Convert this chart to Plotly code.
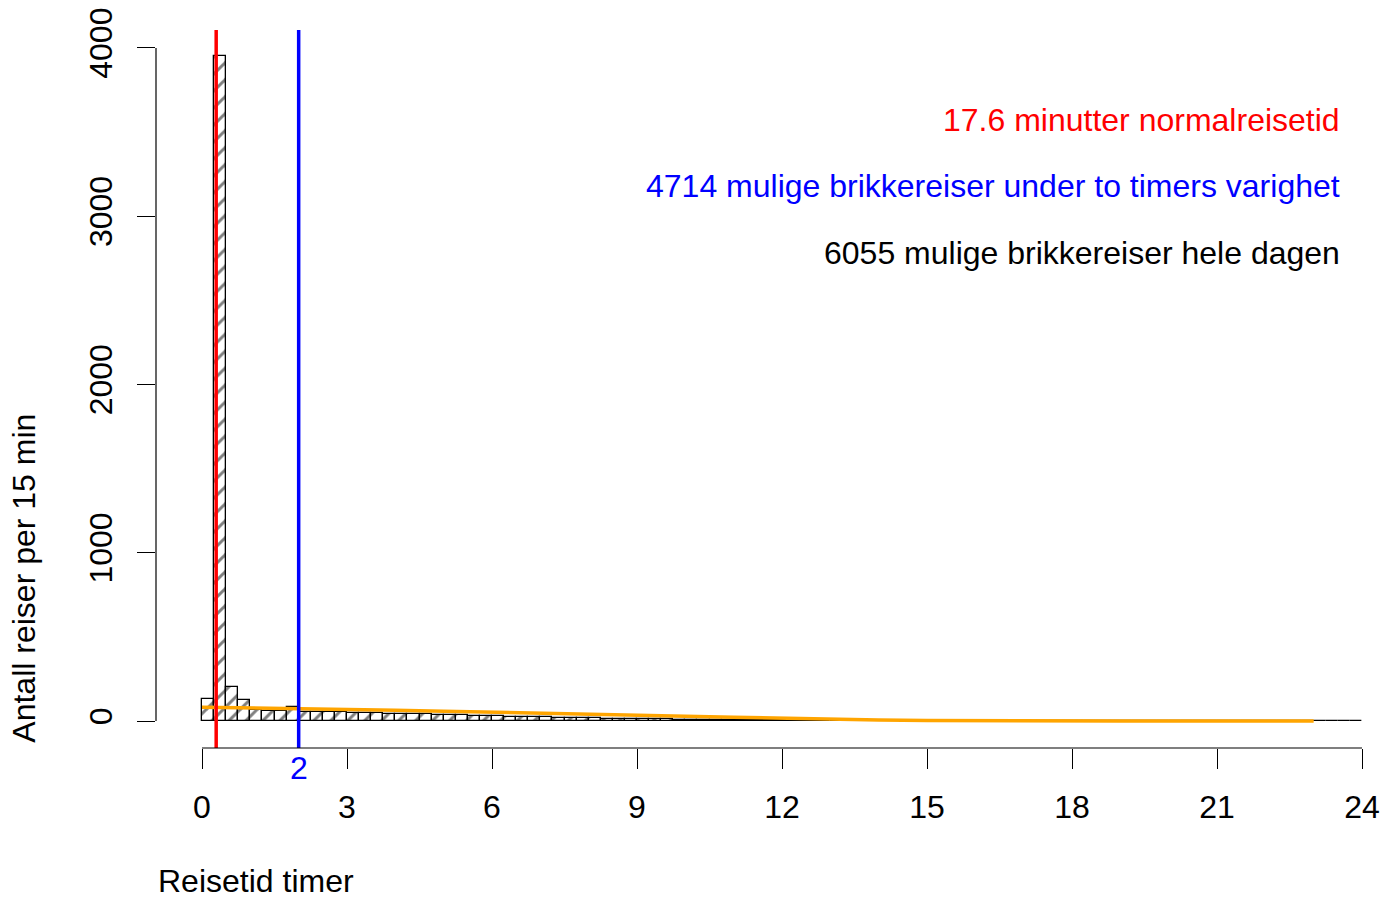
import plotly.graph_objects as go

# ---- data ----
bin_width_h = 0.25
counts = [134, 3950, 203, 124, 65, 63, 60, 82,
          56, 54, 52, 52, 50, 49, 47,
          45, 43, 41, 40, 38, 36, 35, 33,
          31, 29, 27, 26, 24, 22, 21, 19,
          18, 17, 15, 14, 13, 12, 11, 10,
          9, 9, 8, 7, 7, 6, 5, 5,
          5, 4, 4, 4, 3, 3, 3, 3, 2, 2, 2, 2, 2, 2,
          2, 2, 2, 1, 2, 1, 1, 2, 1, 1, 1, 1, 1, 1, 1, 1, 1, 1, 1, 1,
          0, 1, 1, 1, 0, 1, 1, 0, 1, 1, 1, 1, 1, 1, 1]
bin_centers = [bin_width_h * i + bin_width_h / 2 for i in range(len(counts))]

smooth_x = [0, 1, 2, 3, 4, 5, 6, 7, 8, 9, 10, 11, 12, 13, 14, 15, 16, 17, 18, 19, 20, 21, 22, 23]
smooth_y = [83, 77, 73, 69, 64, 59, 54, 47, 41, 35, 29, 23, 16, 11, 7, 4, 2, 1, 0, 0, 0, 0, 0, 0]

normal_time_h = 17.6 / 60
limit_h = 2
x_ticks = [0, 3, 6, 9, 12, 15, 18, 21, 24]
y_ticks = [0, 1000, 2000, 3000, 4000]

txt_red = "17.6 minutter normalreisetid"
txt_blue = "4714 mulige brikkereiser under to timers varighet"
txt_black = "6055 mulige brikkereiser hele dagen"

FONT = "Liberation Sans, Arial, sans-serif"
FS = 32

fig = go.Figure()
fig.add_trace(go.Bar(
    x=bin_centers, y=counts, width=bin_width_h,
    marker=dict(color="white",
                line=dict(color="black", width=1.3),
                pattern=dict(shape="/", fgcolor="black", bgcolor="white",
                             size=12, solidity=0.25)),
    showlegend=False, hoverinfo="skip"))
fig.add_trace(go.Scatter(x=smooth_x, y=smooth_y, mode="lines",
                         line=dict(color="#FFA500", width=3.5),
                         showlegend=False, hoverinfo="skip"))

shapes = [
    dict(type="line", xref="x", yref="paper", x0=normal_time_h, x1=normal_time_h,
         y0=0, y1=1, line=dict(color="#FF0000", width=3.5)),
    dict(type="line", xref="x", yref="paper", x0=limit_h, x1=limit_h,
         y0=0, y1=1, line=dict(color="#0000FF", width=3.5)),
    dict(type="line", xref="x", yref="paper", x0=x_ticks[0], x1=x_ticks[-1],
         y0=0, y1=0, line=dict(color="black", width=1.2)),
    dict(type="line", xref="paper", yref="y", x0=0, x1=0,
         y0=y_ticks[0], y1=y_ticks[-1], line=dict(color="black", width=1.2)),
]

annotations = [
    dict(text=txt_red, xref="paper", yref="paper", x=0.958, y=0.8752,
         xanchor="right", yanchor="middle", showarrow=False,
         font=dict(color="#FF0000", size=FS, family=FONT)),
    dict(text=txt_blue, xref="paper", yref="paper", x=0.958, y=0.7822,
         xanchor="right", yanchor="middle", showarrow=False,
         font=dict(color="#0000FF", size=FS, family=FONT)),
    dict(text=txt_black, xref="paper", yref="paper", x=0.958, y=0.6893,
         xanchor="right", yanchor="middle", showarrow=False,
         font=dict(color="black", size=FS, family=FONT)),
    dict(text=str(limit_h), xref="x", yref="paper", x=limit_h, y=0,
         xanchor="center", yanchor="middle", yshift=-20, showarrow=False,
         font=dict(color="#0000FF", size=FS, family=FONT)),
    dict(text="Reisetid timer", xref="paper", yref="paper", x=0.0, y=0,
         xanchor="left", yanchor="middle", yshift=-133, showarrow=False,
         font=dict(color="black", size=FS, family=FONT)),
    dict(text="Antall reiser per 15 min", xref="paper", yref="paper",
         x=-0.1066, y=0.004, xanchor="center", yanchor="bottom",
         textangle=-90, showarrow=False,
         font=dict(color="black", size=FS, family=FONT)),
]

fig.update_layout(
    width=1386, height=890,
    margin=dict(l=148, r=0, t=19, b=150),
    paper_bgcolor="white", plot_bgcolor="white",
    bargap=0, shapes=shapes, annotations=annotations,
    font=dict(family=FONT, size=FS, color="black"),
    xaxis=dict(range=[-0.9517, 24.662], tickvals=x_ticks, ticks="outside",
               ticklen=20, tickwidth=1.2, tickcolor="black",
               showline=False, zeroline=False, showgrid=False,
               ticklabelstandoff=11, ticklabeloverflow="allow",
               tickfont=dict(size=FS, family=FONT, color="black")),
    yaxis=dict(range=[-159.8, 4106.5], tickvals=y_ticks, ticks="outside",
               ticklen=18, tickwidth=1.2, tickcolor="black",
               showline=False, zeroline=False, showgrid=False,
               tickangle=-90, ticklabelstandoff=12, ticklabeloverflow="allow",
               tickfont=dict(size=FS, family=FONT, color="black")),
)

fig.write_html("out.html")
